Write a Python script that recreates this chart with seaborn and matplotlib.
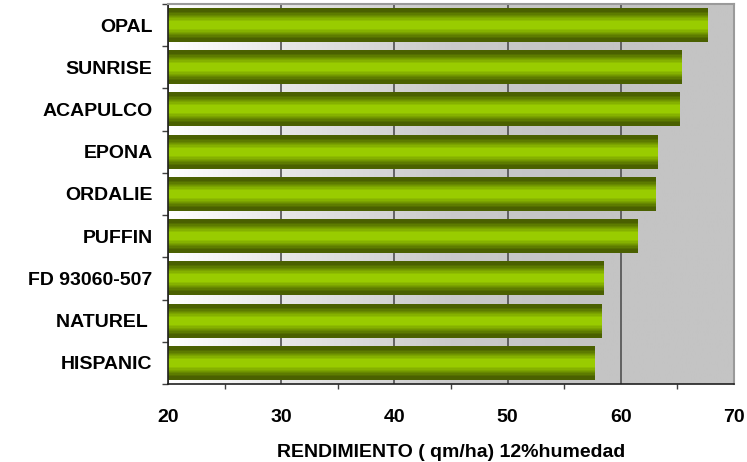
import numpy as np
import pandas as pd
import matplotlib
matplotlib.use("Agg")
import matplotlib.pyplot as plt
import seaborn as sns
from matplotlib.colors import LinearSegmentedColormap, to_rgb

variedades = ["OPAL", "SUNRISE", "ACAPULCO", "EPONA", "ORDALIE",
              "PUFFIN", "FD 93060-507", "NATUREL ", "HISPANIC"]
rendimiento = [67.7, 65.4, 65.2, 63.2, 63.05, 61.5, 58.5, 58.3, 57.7]

sns.set_theme(style="white")
plt.rcParams["font.family"] = ["Liberation Sans", "DejaVu Sans"]
plt.rcParams.update({"text.color": "black", "axes.labelcolor": "black",
                     "xtick.color": "black", "ytick.color": "black"})

fig = plt.figure(figsize=(7.47, 4.62), dpi=100)
ax = fig.add_axes([168 / 747, 78 / 462, 566 / 747, 380 / 462])

df = pd.DataFrame({"variedad": variedades, "rendimiento": rendimiento})
sns.barplot(data=df, x="rendimiento", y="variedad", orient="h",
            width=0.8, color="#99cc00", ax=ax)

ax.set_xlim(20, 70)
ylim = (len(variedades) - 0.5, -0.5)
ax.set_ylim(*ylim)

# background: white -> grey, left to right
bg = LinearSegmentedColormap.from_list("bg", ["#ffffff", "#e2e2e2", "#cacaca", "#c4c4c4", "#c4c4c4"])
ax.imshow(np.linspace(0, 1, 256)[None, :], cmap=bg, aspect="auto",
          extent=[0, 1, 0, 1], transform=ax.transAxes, zorder=0)

# bar gradient: dark olive edges, bright green centre (banded)
dark, light = np.array(to_rgb("#4a6000")), np.array(to_rgb("#99cc00"))
n = 13
half = [dark + (light - dark) * min(1, max(0, (i - 2) / (n - 5))) for i in range(n)]
prof = np.array(half + half[::-1])[:, None, :]
for p in ax.patches:
    x0, y0 = p.get_x(), p.get_y()
    w, h = p.get_width(), p.get_height()
    p.set_visible(False)
    ax.imshow(prof, aspect="auto", interpolation="nearest",
              extent=[x0, x0 + w, y0 + h, y0], zorder=2)
ax.set_xlim(20, 70)
ax.set_ylim(*ylim)

ax.set_xticks(range(20, 71, 10))
ax.set_xticks(range(25, 70, 10), minor=True)
ax.grid(axis="x", which="major", color="#505050", lw=1.2)
ax.set_axisbelow(True)

ax.set_yticks(range(len(variedades)))
ax.set_yticklabels(variedades)
ax.set_yticks(np.arange(-0.5, len(variedades), 1), minor=True)

ax.tick_params(axis="x", which="major", direction="out", length=5, width=1.2,
               color="black", labelcolor="black", pad=13, labelsize=14)
ax.tick_params(axis="x", which="minor", direction="out", length=3.5, width=1,
               color="#404040", bottom=True)
ax.tick_params(axis="y", which="major", length=0, pad=11, labelsize=14,
               labelcolor="black")
ax.tick_params(axis="y", which="minor", direction="out", length=4, width=1,
               color="#404040", left=True)
for lab in ax.get_xticklabels() + ax.get_yticklabels():
    lab.set_fontweight("bold")

for s in ["left", "bottom"]:
    ax.spines[s].set_color("#202020")
    ax.spines[s].set_linewidth(1.2)
for s in ["top", "right"]:
    ax.spines[s].set_color("#9a9a9a")
    ax.spines[s].set_linewidth(1.5)

ax.set_ylabel("")
ax.set_xlabel("RENDIMIENTO ( qm/ha) 12%humedad", fontsize=14,
              fontweight="bold", labelpad=13, color="black")

fig.savefig("out.png", dpi=100)
